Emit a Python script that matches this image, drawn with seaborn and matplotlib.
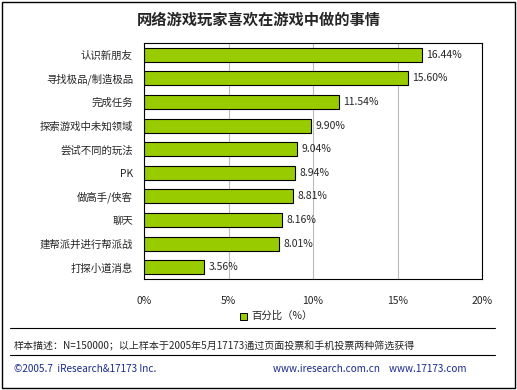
import numpy as np
import pandas as pd
import matplotlib.pyplot as plt
import seaborn as sns

# data
activities = ["认识新朋友", "寻找极品/制造极品", "完成任务", "探索游戏中未知领域",
              "尝试不同的玩法", "PK", "做高手/侠客", "聊天", "建帮派并进行帮派战", "打探小道消息"]
percent = [16.44, 15.60, 11.54, 9.90, 9.04, 8.94, 8.81, 8.16, 8.01, 3.56]
xticks = [0, 5, 10, 15, 20]

df = pd.DataFrame({"activity": activities, "percent": percent})

sns.set_theme(style="white")
plt.rcParams['font.family'] = ['Noto Sans CJK SC', 'DejaVu Sans']

fig = plt.figure(figsize=(5.17, 3.90), dpi=100)
ax = fig.add_axes([144 / 517, 1 - 279 / 390, (482 - 144) / 517, (279 - 43) / 390])

bar_color = "#99cc00"
sns.barplot(data=df, x="percent", y="activity", orient="h", color=bar_color,
            width=0.6, edgecolor="black", linewidth=0.8, ax=ax, saturation=1)

ax.set_xlim(0, 20)
ax.set_xticks(xticks)
ax.set_xticklabels([f"{t}%" for t in xticks], fontsize=7.5)
ax.tick_params(axis="x", length=0, pad=12)
ax.tick_params(axis="y", length=0, pad=8, labelsize=7.5)
ax.set_xlabel("")
ax.set_ylabel("")
ax.grid(axis="x", color="#bbbbbb", linewidth=0.8)
ax.set_axisbelow(True)
for s in ax.spines.values():
    s.set_color("black")
    s.set_linewidth(0.8)

for i, v in enumerate(percent):
    ax.text(v + 0.25, i, f"{v:.2f}%", va="center", ha="left", fontsize=7.5)

# title
fig.text(0.5, 1 - 20 / 390, "网络游戏玩家喜欢在游戏中做的事情", ha="center", va="center",
         fontsize=11, fontweight="bold")

# legend
fig.patches.append(plt.Rectangle((240 / 517, 1 - 320 / 390), 7 / 517, 7 / 390,
                                 transform=fig.transFigure, facecolor=bar_color,
                                 edgecolor="black", linewidth=0.7))
fig.text(251 / 517, 1 - 316 / 390, "百分比（%）", ha="left", va="center", fontsize=7.5)

# separators and notes
fig.add_artist(plt.Line2D([10 / 517, 495 / 517], [1 - 328 / 390, 1 - 328 / 390],
                          transform=fig.transFigure, color="black", linewidth=0.8))
fig.text(14 / 517, 1 - 346 / 390, "样本描述：N=150000；以上样本于2005年5月17173通过页面投票和手机投票两种筛选获得",
         ha="left", va="center", fontsize=7.2)
fig.add_artist(plt.Line2D([10 / 517, 495 / 517], [1 - 355 / 390, 1 - 355 / 390],
                          transform=fig.transFigure, color="black", linewidth=0.8))
fig.text(14 / 517, 1 - 369 / 390, "©2005.7  iResearch&17173 Inc.", ha="left", va="center",
         fontsize=7.2, color="#1a2a8c")
fig.text(273 / 517, 1 - 369 / 390, "www.iresearch.com.cn    www.17173.com", ha="left", va="center",
         fontsize=7.2, color="#1a2a8c")

# outer frame
fig.patches.append(plt.Rectangle((2 / 517, 2 / 390), 513 / 517, 386 / 390,
                                 transform=fig.transFigure, fill=False,
                                 edgecolor="black", linewidth=1))

fig.savefig("out.png", dpi=100)
